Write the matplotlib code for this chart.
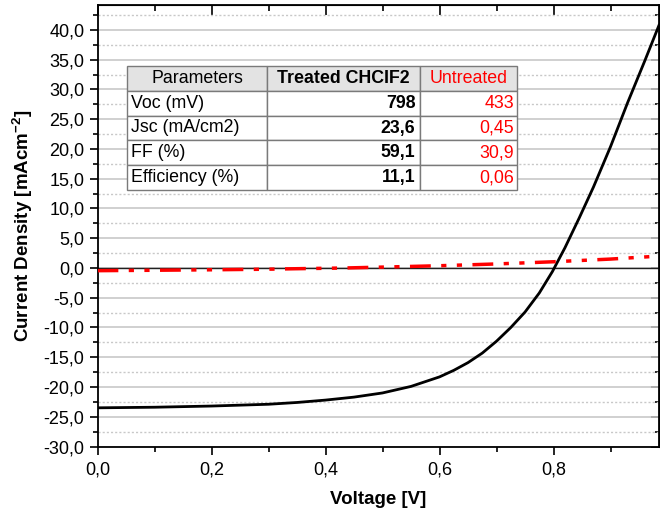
import matplotlib
matplotlib.use("Agg")
import matplotlib.pyplot as plt
from matplotlib.ticker import MultipleLocator, FuncFormatter

plt.rcParams['font.family'] = ['Liberation Sans', 'DejaVu Sans']
plt.rcParams['mathtext.fontset'] = 'custom'
plt.rcParams['mathtext.rm'] = 'Liberation Sans'
plt.rcParams['mathtext.bf'] = 'Liberation Sans:bold'

# treated CHClF2 J-V curve
v_treated = [0.0, 0.05, 0.1, 0.2, 0.3, 0.35, 0.4, 0.45, 0.5, 0.55, 0.6, 0.625,
             0.65, 0.675, 0.7, 0.725, 0.75, 0.775, 0.798, 0.82, 0.845, 0.87,
             0.9, 0.93, 0.96, 0.985]
j_treated = [-23.5, -23.45, -23.4, -23.2, -22.9, -22.6, -22.2, -21.7, -21.0, -19.9,
             -18.3, -17.2, -15.9, -14.3, -12.3, -10.0, -7.4, -4.2, -0.6, 3.4, 8.4, 13.6,
             20.4, 27.8, 34.8, 40.8]

# untreated J-V curve
v_untreated = [0.0, 0.1, 0.2, 0.3, 0.35, 0.433, 0.5, 0.6, 0.7, 0.8, 0.9, 0.985]
j_untreated = [-0.45, -0.38, -0.3, -0.2, -0.12, 0.0, 0.15, 0.38, 0.68, 1.05, 1.5, 2.0]

col_labels = ["Parameters", "Treated CHCIF2", "Untreated"]
row_params = ["Voc (mV)", "Jsc (mA/cm2)", "FF (%)", "Efficiency (%)"]
treated_vals = ["798", "23,6", "59,1", "11,1"]
untreated_vals = ["433", "0,45", "30,9", "0,06"]

fig = plt.figure(figsize=(6.6, 5.16), dpi=100)
ax = fig.add_axes([97.5 / 660, 1 - 446.5 / 516, 561.5 / 660, 441.5 / 516])

ax.yaxis.grid(True, which='major', color='#c8c8c8', lw=1.2, ls='-')
ax.yaxis.grid(True, which='minor', color='#c8c8c8', lw=1.0, ls=(0, (1.5, 1.5)))
ax.set_axisbelow(True)
ax.axhline(0, color='#202020', lw=1.0, zorder=1)

ax.plot(v_treated, j_treated, color='black', lw=2.0, zorder=3)
ax.plot(v_untreated, j_untreated, color='red', lw=2.5,
        ls=(0, (6, 3, 1.5, 3, 1.5, 3)), zorder=3)

ax.set_xlim(0, 0.985)
ax.set_ylim(-30, 44.2)
ax.xaxis.set_major_locator(MultipleLocator(0.2))
ax.xaxis.set_minor_locator(MultipleLocator(0.1))
ax.yaxis.set_major_locator(MultipleLocator(5))
ax.yaxis.set_minor_locator(MultipleLocator(2.5))
comma = FuncFormatter(lambda v, p: f"{v:.1f}".replace('.', ','))
ax.xaxis.set_major_formatter(comma)
ax.yaxis.set_major_formatter(comma)

ax.tick_params(which='both', direction='out', labelsize=13, width=1.2,
               colors='black', top=False, right=False)
ax.tick_params(which='major', length=6)
ax.tick_params(which='minor', length=3.5)
ax.tick_params(axis='x', pad=5)
for spine in ax.spines.values():
    spine.set_linewidth(1.3)

# inward mirrored ticks on top and right
top = ax.secondary_xaxis('top')
top.xaxis.set_major_locator(MultipleLocator(0.2))
top.xaxis.set_minor_locator(MultipleLocator(0.1))
top.tick_params(which='both', direction='in', labeltop=False, width=1.2)
top.tick_params(which='major', length=7)
top.tick_params(which='minor', length=4)
right = ax.secondary_yaxis('right')
right.yaxis.set_major_locator(MultipleLocator(5))
right.yaxis.set_minor_locator(MultipleLocator(2.5))
right.tick_params(which='both', direction='in', labelright=False, width=1.2)
right.tick_params(which='major', length=6)
right.tick_params(which='minor', length=3)

ax.set_xlabel("Voltage [V]", fontsize=13.5, fontweight='bold', labelpad=9)
ax.set_ylabel("Current Density [mAcm$^{\\mathbf{-2}}$]", fontsize=13.5,
              fontweight='bold', labelpad=6)

cells = [[p, t, u] for p, t, u in zip(row_params, treated_vals, untreated_vals)]
tab = ax.table(cellText=cells, colLabels=col_labels,
               colWidths=[140 / 390, 153 / 390, 97 / 390],
               bbox=[29.5 / 561.5, (446.5 - 190) / 441.5, 390 / 561.5, 124 / 441.5],
               zorder=5)
tab.auto_set_font_size(False)
for (r, c), cell in tab.get_celld().items():
    cell.set_edgecolor('#7a7a7a')
    cell.set_linewidth(1.0)
    txt = cell.get_text()
    txt.set_fontsize(12.8)
    if r == 0:
        cell.set_facecolor('#e3e3e3')
        cell._loc = 'center'
        txt.set_ha('center')
    else:
        cell.set_facecolor('white')
        if c == 0:
            cell._loc = 'left'
            txt.set_ha('left')
        else:
            cell._loc = 'right'
            txt.set_ha('right')
    if c == 1:
        txt.set_fontweight('bold')
    if c == 2:
        txt.set_color('red')
    cell.PAD = 0.03

plt.savefig("out.png", dpi=100)
